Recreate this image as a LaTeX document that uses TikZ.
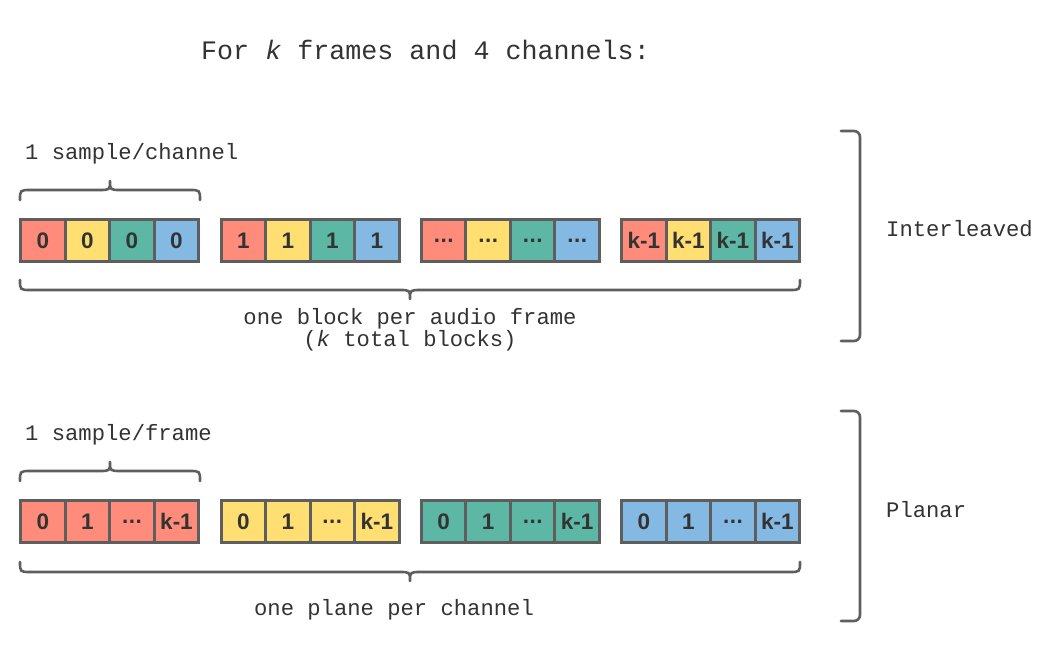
\documentclass[tikz,border=0pt]{standalone}
\usepackage{fontspec}
\setmainfont{Liberation Sans}
\setmonofont{Liberation Mono}
\definecolor{cred}{HTML}{FF8B7B}
\definecolor{cyel}{HTML}{FFDF71}
\definecolor{cteal}{HTML}{5CB8A5}
\definecolor{cblue}{HTML}{84B9E3}
\definecolor{cline}{HTML}{5E5E5E}
\definecolor{ctext}{HTML}{333333}
\newcommand\dotlab{.\kern0.5pt.\kern0.5pt.}
\tikzset{
  cell/.style={draw=cline, line width=3pt, minimum width=44.5pt, minimum height=41.5pt,
    inner sep=0pt, text=ctext, font=\bfseries\fontsize{22.5}{22.5}\selectfont},
  lbl/.style={inner sep=0pt, text=ctext, font=\ttfamily\fontsize{22.2}{24}\selectfont},
  brace/.style={draw=cline, line width=2.6pt, line cap=round, line join=round},
}
\begin{document}
\begin{tikzpicture}[x=1pt,y=-1pt]
\useasboundingbox[fill=white] (0,0) rectangle (1050,650);
% title
\node[lbl, anchor=base west, font=\ttfamily\fontsize{26.7}{30}\selectfont] (title) at (201,59.5) {For \textit{k} frames and 4 channels:};
% interleaved row
\foreach \i/\lab in {0/0,1/1,2/\dotlab,3/k-1}{
  \foreach \j/\col in {0/cred,1/cyel,2/cteal,3/cblue}{
    \pgfmathsetmacro\cx{20.75+200.33*\i+22.25+44.5*\j}
    \node[cell, fill=\col] (a-\i-\j) at (\cx,240.5) {\lab};
  }
}
% planar row
\foreach \i/\col in {0/cred,1/cyel,2/cteal,3/cblue}{
  \foreach \j/\lab in {0/0,1/1,2/\dotlab,3/k-1}{
    \pgfmathsetmacro\cx{20.75+200.33*\i+22.25+44.5*\j}
    \node[cell, fill=\col] (b-\i-\j) at (\cx,521.5) {\lab};
  }
}
% labels
\node[lbl, anchor=base west] (s1) at (25,160) {1 sample/channel};
\node[lbl, anchor=base west] (s2) at (25,440.5) {1 sample/frame};
\node[lbl, anchor=base] (o1) at (410,324) {one block per audio frame};
\node[lbl, anchor=base] (o2) at (410,346) {(\textit{k} total blocks)};
\node[lbl, anchor=base] (o3) at (394,615) {one plane per channel};
\node[lbl, anchor=base west] (il) at (886,236) {Interleaved};
\node[lbl, anchor=base west] (pl) at (886,517) {Planar};
% braces row 1
\draw[brace] (20,200) .. controls (20,190) .. (31,190) -- (99,190)
  .. controls (110,190) .. (110,181) .. controls (110,190) .. (121,190)
  -- (189,190) .. controls (200,190) .. (200,200);
\draw[brace] (20,280) .. controls (20,290) .. (31,290) -- (399,290)
  .. controls (410,290) .. (410,299) .. controls (410,290) .. (421,290)
  -- (789,290) .. controls (800,290) .. (800,280);
% braces row 2
\draw[brace] (20,481) .. controls (20,471) .. (31,471) -- (99,471)
  .. controls (110,471) .. (110,462) .. controls (110,471) .. (121,471)
  -- (189,471) .. controls (200,471) .. (200,481);
\draw[brace] (20,562) .. controls (20,572) .. (31,572) -- (399,572)
  .. controls (410,572) .. (410,581) .. controls (410,572) .. (421,572)
  -- (789,572) .. controls (800,572) .. (800,562);
% right brackets
\draw[brace, rounded corners=6pt] (841,131) -- (860,131) -- (860,341) -- (841,341);
\draw[brace, rounded corners=6pt] (841,411) -- (860,411) -- (860,621) -- (841,621);
\end{tikzpicture}
\end{document}
